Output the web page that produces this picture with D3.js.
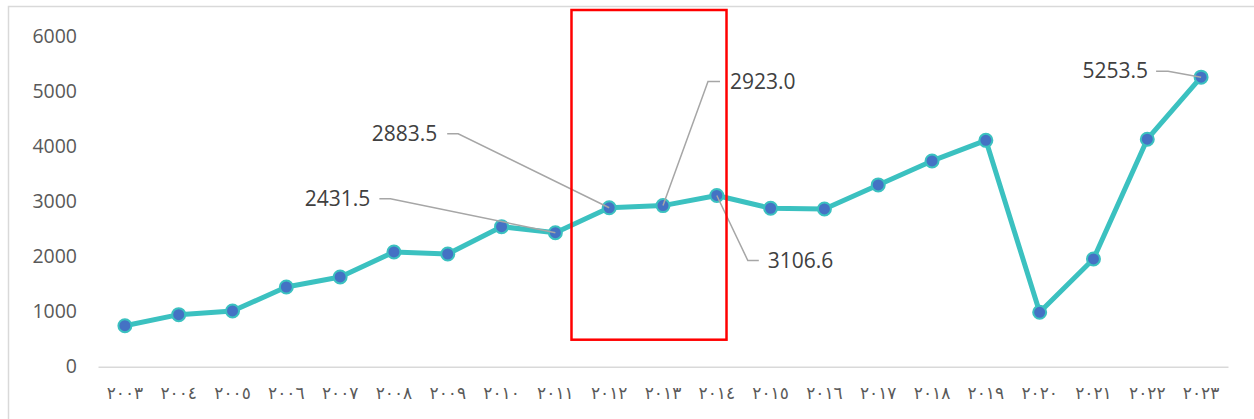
<!DOCTYPE html>
<html><head><meta charset="utf-8">
<script src="https://cdn.jsdelivr.net/npm/d3@7"></script>
<style>html,body{margin:0;padding:0;background:#fff;}svg{display:block;}</style>
</head><body>
<svg id="c" width="1254" height="419"></svg>
<script>
const years = ["٢٠٠٣","٢٠٠٤","٢٠٠٥","٢٠٠٦","٢٠٠٧","٢٠٠٨","٢٠٠٩","٢٠١٠","٢٠١١","٢٠١٢","٢٠١٣","٢٠١٤","٢٠١٥","٢٠١٦","٢٠١٧","٢٠١٨","٢٠١٩","٢٠٢٠","٢٠٢١","٢٠٢٢","٢٠٢٣"];
const values = [744,944,1011,1446,1628,2082,2045,2541,2431.5,2883.5,2923.0,3106.6,2875,2862,3298,3733,4107,987,1955,4127,5253.5];
const yTicks = [0,1000,2000,3000,4000,5000,6000];
const labelled = [8,9,10,11,20];
const highlight = [9,11]; // index range framed by the red box

const svg = d3.select("#c");
const x = d3.scaleBand().domain(years).range([98,1228]).padding(0);
const y = d3.scaleLinear().domain([0,6000]).range([366.7,36]);
const cx = i => x(years[i]) + x.bandwidth()/2;

// chart border
svg.append("rect").attr("x",8.5).attr("y",6.5).attr("width",1260).attr("height",430)
  .attr("fill","none").attr("stroke","#D9D9D9").attr("stroke-width",1.5);

// y axis labels
const yAxis = d3.axisLeft(y).tickValues(yTicks).tickSize(0).tickPadding(0).tickFormat(d3.format("d"));
const gy = svg.append("g").attr("transform","translate(77,0)").call(yAxis);
gy.select(".domain").remove();
gy.selectAll("text").attr("font-family","'Open Sans'").attr("font-size",19.5).attr("fill","#595959");

// x axis
const xAxis = d3.axisBottom(x).tickSize(0).tickPadding(0);
const gx = svg.append("g").attr("transform",`translate(0,${y(0)})`).call(xAxis);
gx.select(".domain").attr("stroke","#D9D9D9").attr("stroke-width",1.5);
gx.selectAll("text").attr("font-family","'DejaVu Sans'").attr("font-size",17).attr("fill","#595959")
  .attr("letter-spacing","1.5px").attr("dy","0").attr("y",32).attr("direction","ltr");

// line
const line = d3.line().x((d,i)=>cx(i)).y(d=>y(d));
svg.append("path").datum(values).attr("d",line).attr("fill","none")
  .attr("stroke","#3BC1C0").attr("stroke-width",5).attr("stroke-linejoin","round");

// markers
svg.selectAll("circle.m").data(values).join("circle").attr("class","m")
  .attr("cx",(d,i)=>cx(i)).attr("cy",d=>y(d)).attr("r",6.5)
  .attr("fill","#4472C4").attr("stroke","#3BC1C0").attr("stroke-width",2);

// data labels with leader lines (layout offsets)
const lay = {
  8:{tx:-185,ty:-34,anchor:"end",l0:-176,l1:-165},
  9:{tx:-172,ty:-74,anchor:"end",l0:-162,l1:-151},
  10:{tx:67,ty:-124,anchor:"start",l0:57,l1:45},
  11:{tx:51,ty:65,anchor:"start",l0:42,l1:31},
  20:{tx:-53,ty:-6,anchor:"end",l0:-45,l1:-33}
};
labelled.forEach(i=>{
  const px=cx(i), py=y(values[i]), L=lay[i];
  svg.append("path").attr("d",`M${px+L.l0},${py+L.ty}L${px+L.l1},${py+L.ty}L${px},${py}`)
    .attr("fill","none").attr("stroke","#A6A6A6").attr("stroke-width",1.5);
  svg.append("text").attr("x",px+L.tx).attr("y",py+L.ty).attr("dy","0.35em")
    .attr("text-anchor",L.anchor).attr("font-family","'Open Sans'").attr("font-size",21)
    .attr("fill","#404040").text(values[i].toFixed(1));
});

// red highlight box
const bx0 = cx(highlight[0]) - 37.7, bx1 = cx(highlight[1]) + 9.7;
svg.append("rect").attr("x",bx0).attr("y",y(6000)-26).attr("width",bx1-bx0).attr("height",y(0)-27-(y(6000)-26))
  .attr("fill","none").attr("stroke","#FF0000").attr("stroke-width",2.5);
</script>
</body></html>
